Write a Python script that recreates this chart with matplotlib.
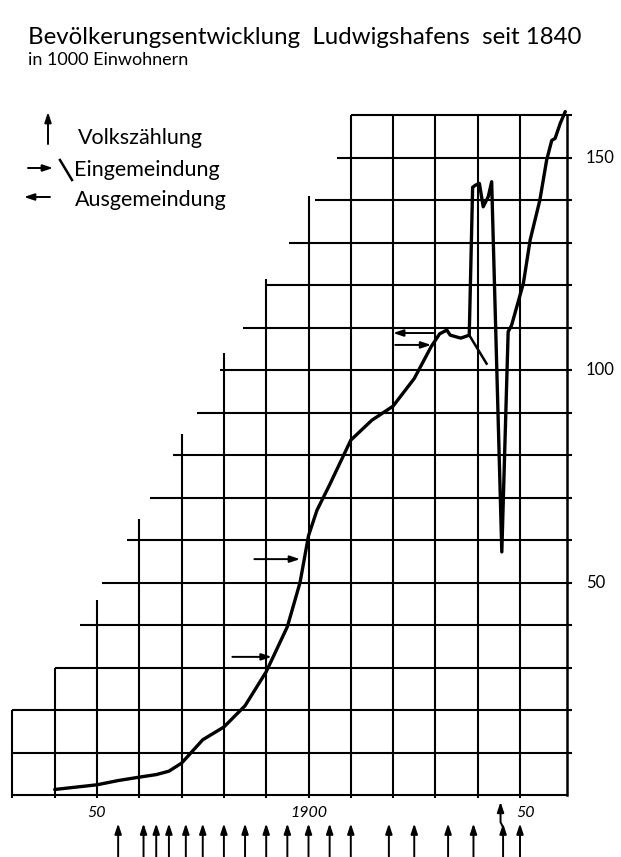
import matplotlib
matplotlib.use("Agg")
import matplotlib.pyplot as plt

# ---------------- data ----------------
years = [1840, 1850, 1855, 1860, 1864, 1867, 1870, 1873, 1875, 1880, 1885, 1890,
         1895, 1898, 1900, 1902, 1905, 1910, 1915, 1920, 1925, 1929, 1931, 1932.7,
         1933.5, 1936, 1938, 1938.8, 1939.5, 1940.4, 1941.3, 1942.5, 1943.3, 1945.7,
         1947.2, 1948, 1950.8, 1952.4, 1954.7, 1956.3, 1957.5, 1958.3, 1959.5, 1960.7]
population = [1.3, 2.4, 3.4, 4.2, 4.8, 5.6, 7.5, 10.8, 13.0, 16, 21, 29,
              39.6, 50, 61, 67, 73, 83.5, 88.2, 91.5, 98, 105.5, 108.5, 109.4,
              108.2, 107.5, 108.2, 143, 143.5, 143.9, 138.4, 140.8, 144.3, 57.2,
              109, 110.5, 120.4, 130.6, 140, 149.4, 154, 154.5, 158, 160.8]

# incorporation mark "\" (1938)
incorp_slash_years = [1938, 1942.1]
incorp_slash_values = [108.2, 101.5]

# census years (Volkszählung)
census_years = [1855, 1861, 1864, 1867, 1871, 1875, 1880, 1885, 1890, 1895, 1900,
                1905, 1910, 1919, 1925, 1933, 1939, 1946, 1950]

# incorporation arrows (Eingemeindung): start year, end year, level
ein_start = [1882, 1887.2, 1920.5]
ein_end = [1891.3, 1898, 1929]
ein_level = [32.5, 55.5, 105.9]
# Ausgemeindung arrow
aus_start = [1929.5]
aus_end = [1920]
aus_level = [108.7]

# staircase grid
grid_years = [1830, 1840, 1850, 1860, 1870, 1880, 1890, 1900, 1910, 1920, 1930, 1940, 1950]
grid_year_tops = [20, 30, 46, 65, 85, 104, 121.5, 141, 160, 160, 160, 160, 160]
grid_levels = [0, 10, 20, 30, 40, 50, 60, 70, 80, 90, 100, 110, 120, 130, 140, 150, 160]
grid_level_starts = [1830, 1830, 1830, 1840, 1846, 1851.3, 1857, 1862.5, 1868, 1873.6,
                     1879, 1884.4, 1890, 1895.5, 1901.5, 1906.7, 1910]
grid_right = 1961

y_tick_values = [50, 100, 150]
y_tick_labels = ["50", "100", "150"]
x_tick_values = [1850, 1900, 1950]
x_tick_labels = ["50", "1900", "50"]

title = "Bevölkerungsentwicklung  Ludwigshafens  seit 1840"
subtitle = "in 1000 Einwohnern"
legend_labels = ["Volkszählung", "Eingemeindung", "Ausgemeindung"]

# ---------------- figure ----------------
W, H = 621, 857
fig = plt.figure(figsize=(W / 100, H / 100), dpi=100)
fig.patch.set_facecolor("white")
ax = fig.add_axes([0, 0, 1, 1])
# px = 97 + (year-1850)*4.23 ; py = 795 - value*4.25
ax.set_xlim(1850 - 97 / 4.23, 1850 + (W - 97) / 4.23)
ax.set_ylim((795 - H) / 4.25, 795 / 4.25)
ax.axis("off")

FONT = ["Lato", "DejaVu Sans"]
K = "black"
glw = 1.5

# grid verticals
for yr, top in zip(grid_years, grid_year_tops):
    ax.plot([yr, yr], [-0.6, top], color=K, lw=glw, solid_capstyle="butt")
ax.plot([grid_right, grid_right], [0, 160], color=K, lw=glw + 0.3)
# grid horizontals
for lv, st in zip(grid_levels, grid_level_starts):
    end = grid_right if lv == 0 else grid_right + 1.3
    ax.plot([st, end], [lv, lv], color=K, lw=glw, solid_capstyle="butt")

# population curve
ax.plot(years, population, color=K, lw=2.4, solid_joinstyle="round",
        solid_capstyle="round", clip_on=False)
ax.plot(incorp_slash_years, incorp_slash_values, color=K, lw=1.8)

arrow_kw = dict(arrowstyle="-|>,head_length=0.6,head_width=0.2", color=K, lw=1.4,
                shrinkA=0, shrinkB=0)
for s, e, lv in zip(ein_start, ein_end, ein_level):
    ax.annotate("", xy=(e, lv), xytext=(s, lv), arrowprops=arrow_kw)
for s, e, lv in zip(aus_start, aus_end, aus_level):
    ax.annotate("", xy=(e, lv), xytext=(s, lv), arrowprops=arrow_kw)

# census arrows below the axis
for yr in census_years:
    ax.annotate("", xy=(yr, -6.7), xytext=(yr, -16), arrowprops=arrow_kw,
                annotation_clip=False)
# hooked arrow near 1945/46
ax.plot([1946, 1945.4, 1945.4], [-7.6, -6.4, -4.0], color=K, lw=1.4)
ax.annotate("", xy=(1945.4, -1.6), xytext=(1945.4, -4.2), arrowprops=arrow_kw)

# tick labels
for v, lab in zip(y_tick_values, y_tick_labels):
    ax.text(1965.6, v, lab, fontsize=12, family=FONT, ha="left", va="center")
for v, lab in zip(x_tick_values, x_tick_labels):
    ax.text(v + (1.2 if lab == "50" and v > 1900 else 0), -4.2, lab, fontsize=11.5,
            family=FONT, style="italic", ha="center", va="center")

# titles
fig.text(28 / W, 1 - 37 / H, title, fontsize=17.3, family=FONT, ha="left", va="center")
fig.text(28 / W, 1 - 60 / H, subtitle, fontsize=13, family=FONT, ha="left", va="center")

# legend
def px(x, y):
    return (1850 + (x - 97) / 4.23, (795 - y) / 4.25)

ax.annotate("", xy=px(48, 112), xytext=px(48, 144), arrowprops=arrow_kw)
ax.annotate("", xy=px(53, 168), xytext=px(28, 168), arrowprops=arrow_kw)
ax.plot(*zip(px(60, 160), px(72, 180)), color=K, lw=1.8)
ax.annotate("", xy=px(24, 197), xytext=px(50, 197), arrowprops=arrow_kw)
for lab, (x, y) in zip(legend_labels, [(78, 138), (74, 170), (75, 200)]):
    ax.text(*px(x, y), lab, fontsize=15.5, family=FONT, ha="left", va="center")

fig.savefig("out.png", dpi=100, facecolor="white")
